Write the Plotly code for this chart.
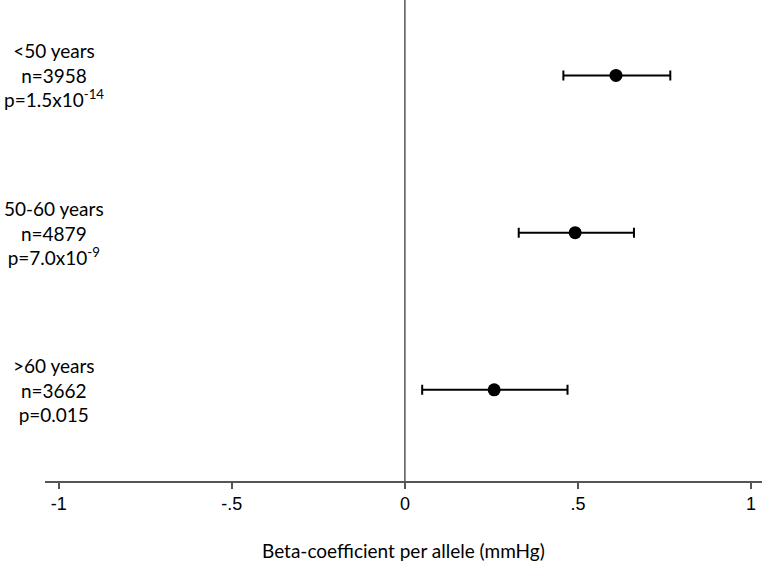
import plotly.graph_objects as go

groups = ["<50 years", "50-60 years", ">60 years"]
ns = ["n=3958", "n=4879", "n=3662"]
ps = ["p=1.5x10<sup>-14</sup>", "p=7.0x10<sup>-9</sup>", "p=0.015"]
beta = [0.61, 0.492, 0.258]
lower = [0.458, 0.329, 0.050]
upper = [0.767, 0.662, 0.470]
ypos = [3, 2, 1]
tick_vals = [-1, -0.5, 0, 0.5, 1]
tick_text = ["-1", "-.5", "0", ".5", "1"]
x_title = "Beta-coefficient per allele (mmHg)"

FONT = "Lato, Carlito, 'Open Sans', sans-serif"
TICKFONT = "'Liberation Sans Narrow', 'Liberation Sans', Arial, sans-serif"

fig = go.Figure()
fig.add_trace(go.Scatter(
    x=beta, y=ypos, mode="markers",
    marker=dict(color="black", size=13),
    error_x=dict(type="data", symmetric=False,
                 array=[u - b for u, b in zip(upper, beta)],
                 arrayminus=[b - l for b, l in zip(beta, lower)],
                 color="black", thickness=2, width=5),
    showlegend=False, cliponaxis=False,
))

fig.add_shape(type="line", xref="x", yref="paper", x0=0, x1=0, y0=0, y1=1,
              line=dict(color="#555555", width=1.5), layer="below")

for g, n, p, y in zip(groups, ns, ps, ypos):
    fig.add_annotation(xref="paper", yref="y", x=0.013, y=y,
                       text=f"{g}<br>{n}<br>{p}", showarrow=False,
                       align="center", xanchor="center", yanchor="middle",
                       font=dict(size=19, color="black", family=FONT))

fig.add_annotation(xref="paper", yref="paper", x=0.5, y=-0.145,
                   text=x_title, showarrow=False, xanchor="center", yanchor="middle",
                   font=dict(size=19, color="black", family=FONT))

fig.update_layout(
    width=767, height=566,
    margin=dict(l=45, r=5, t=0, b=85, autoexpand=False),
    plot_bgcolor="white", paper_bgcolor="white",
    font=dict(family=FONT, size=17, color="black"),
    xaxis=dict(range=[-1.04, 1.032], tickvals=tick_vals, ticktext=tick_text,
               showgrid=False, zeroline=False, showline=True, automargin=False,
               linecolor="#555555", linewidth=1.5,
               ticks="outside", ticklen=6, tickcolor="#555555", tickwidth=1.5,
               tickfont=dict(size=18, color="black", family=TICKFONT)),
    yaxis=dict(range=[0.42, 3.48], showticklabels=False, showgrid=False,
               zeroline=False, showline=False, ticks="", automargin=False),
)

fig.write_html("out.html", config={"displayModeBar": False},
               post_script="document.body.style.margin='0';document.body.style.overflow='hidden';")
